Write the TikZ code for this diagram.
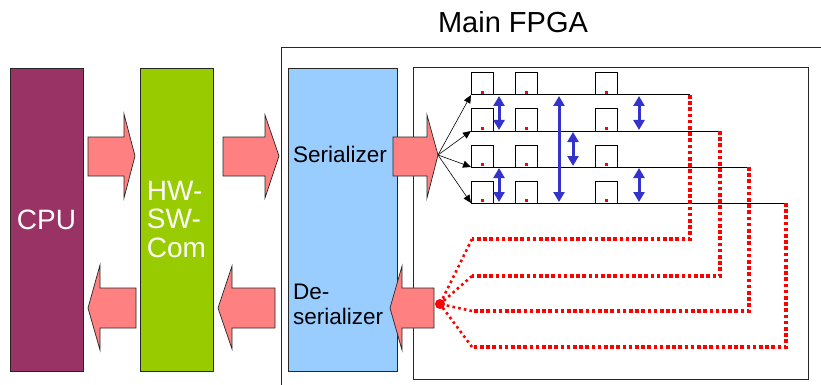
\documentclass[tikz,border=0pt]{standalone}
\usepackage{fontspec}
\setmainfont{Liberation Sans}
\usetikzlibrary{arrows.meta}
\definecolor{cpuc}{HTML}{993366}
\definecolor{hwc}{HTML}{99CC00}
\definecolor{serc}{HTML}{99CCFF}
\definecolor{arrc}{HTML}{FF8080}
\definecolor{bluec}{HTML}{3333CC}
\definecolor{redc}{HTML}{FF0000}
\tikzset{
  block/.style={draw=black!85, line width=0.8pt, minimum width=73pt, minimum height=303pt, inner sep=0pt},
  bigarrow/.style={draw=black!85, line width=0.7pt, fill=arrc},
  reg/.style={draw=black, line width=1pt, line join=miter},
  wire/.style={draw=black, line width=1pt},
  fan/.style={draw=black, line width=0.6pt, -{Triangle[length=8pt,width=7pt]}},
  bidir/.style={draw=bluec, line width=3pt, {Triangle[length=10pt,width=11pt]}-{Triangle[length=10pt,width=11pt]}},
  fb/.style={draw=redc, line width=3.6pt, dash pattern=on 3.6pt off 2.6pt},
  fbdiag/.style={draw=redc, line width=2.6pt, dash pattern=on 2.6pt off 3.2pt},
  tag/.style={fill=redc},
}
\begin{document}
\begin{tikzpicture}[x=1pt,y=-1pt]
\useasboundingbox (0,0) rectangle (821,385);
% Main FPGA frame
\node[font=\fontsize{29}{30}\selectfont, inner sep=0pt] (title) at (513,22) {Main FPGA};
\draw[black!85, line width=0.8pt] (281,386) -- (281,47) -- (822,47);
% blocks
\node[block, fill=cpuc, text=white, font=\fontsize{28}{28.5}\selectfont] (cpu) at (46.5,219.5) {CPU};
\node[block, fill=hwc, text=white, align=left, font=\fontsize{28}{28.5}\selectfont] (hw) at (176.5,219.5) {HW-\\SW-\\Com};
\node[block, fill=serc, minimum width=109pt] (ser) at (342.5,219.5) {};
\node[anchor=west, inner sep=0pt, font=\fontsize{22.5}{25}\selectfont] (sertxt) at (293,154) {Serializer};
\node[anchor=west, inner sep=0pt, align=left, font=\fontsize{22.5}{25}\selectfont] (destxt) at (293,304.5) {De-\\serializer};
% inner box
\draw[black!85, line width=1pt] (413,68) rectangle (808,379);
% big arrows right
\draw[bigarrow] (88,137) -- (124,137) -- (124,114) -- (135,156) -- (124,198) -- (124,176) -- (88,176) -- cycle;
\draw[bigarrow] (223,137) -- (265,137) -- (265,115) -- (279,156) -- (265,198) -- (265,176) -- (223,176) -- cycle;
% big arrows left
\draw[bigarrow] (136,288) -- (100,288) -- (100,265) -- (88,308) -- (100,350) -- (100,328) -- (136,328) -- cycle;
\draw[bigarrow] (275,288) -- (232,288) -- (232,266) -- (218,308) -- (232,349) -- (232,328) -- (275,328) -- cycle;
% serializer / deserializer arrows
\draw[bigarrow] (393,137) -- (427,137) -- (427,115) -- (438,155) -- (427,198) -- (427,176) -- (393,176) -- cycle;
\coordinate (stip) at (438,155);
\draw[bigarrow] (434,288) -- (402,288) -- (402,266) -- (390,308) -- (402,350) -- (402,328) -- (434,328) -- cycle;
\coordinate (blob) at (440,304);
% wires
\foreach \y/\xe/\yb/\n in {95/690/239/1, 131/720/276/2, 167/749/311/3, 203/786/347/4} {
  \coordinate (w\n s) at (471,\y);
  \coordinate (w\n e) at (\xe,\y);
  \coordinate (w\n b) at (\xe,\yb);
  \coordinate (w\n l) at (472,\yb);
}
\foreach \n in {1,2,3,4} {
  \draw[wire] (w\n s) -- (w\n e);
  \draw[fan] (stip) -- (w\n s);
}
% registers
\foreach \y in {95,131,167,203} {
  \foreach \x in {471,515,595} {
    \draw[reg] (\x,\y) -- (\x,\y-22) -- (\x+22,\y-22) -- (\x+22,\y);
    \fill[tag] (\x+9.5,\y-4) rectangle (\x+12.5,\y-1);
  }
}
% blue double arrows
\draw[bidir] (499,96) -- (499,130);
\draw[bidir] (499,168) -- (499,202);
\draw[bidir] (559,96) -- (559,202);
\draw[bidir] (573,132) -- (573,166);
\draw[bidir] (639,96) -- (639,130);
\draw[bidir] (639,168) -- (639,202);
% red feedback
\foreach \n in {1,2,3,4} {
  \draw[fb] (w\n e) -- (w\n b) -- (w\n l);
  \draw[fbdiag] (w\n l) -- (blob);
}
\fill[redc] (blob) circle (5pt);
\end{tikzpicture}
\end{document}
